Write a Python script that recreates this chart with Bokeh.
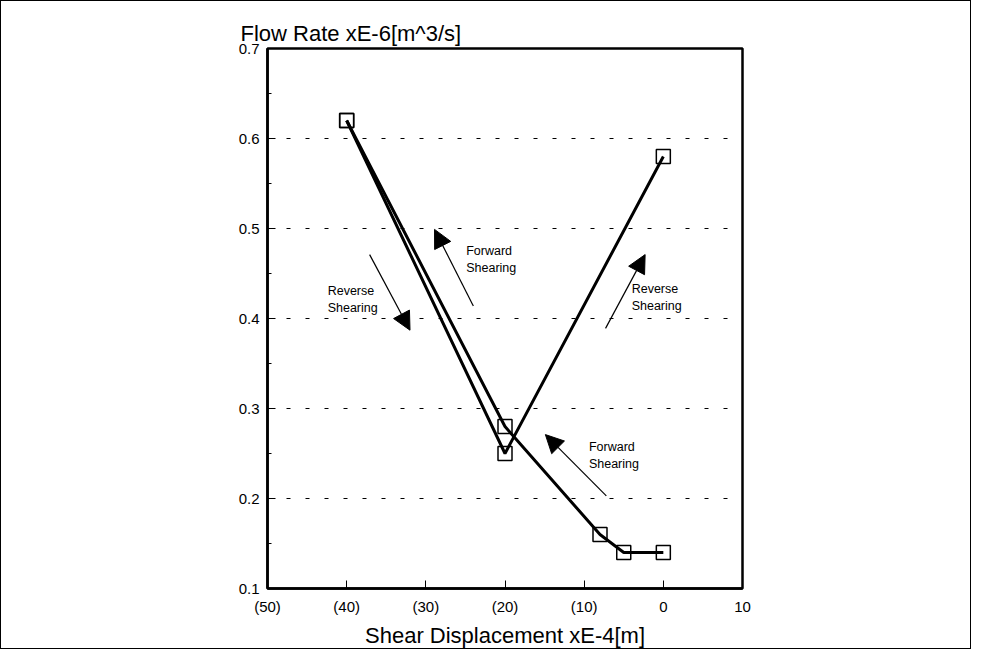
from bokeh.plotting import figure
from bokeh.models import Range1d, Arrow, NormalHead, FixedTicker, Label
from bokeh.embed import file_html
from bokeh.resources import INLINE

# ---- data ----
series_v_x = [-40, -20, 0]
series_v_y = [0.62, 0.25, 0.58]
series_tail_x = [-40, -20, -8, -5, 0]
series_tail_y = [0.62, 0.28, 0.16, 0.14, 0.14]

x_ticks = [-50, -40, -30, -20, -10, 0, 10]
x_tick_labels = ["(50)", "(40)", "(30)", "(20)", "(10)", "0", "10"]
y_ticks = [0.1, 0.2, 0.3, 0.4, 0.5, 0.6, 0.7]
y_tick_labels = ["0.1", "0.2", "0.3", "0.4", "0.5", "0.6", "0.7"]

FONT = "Liberation Sans"

p = figure(width=971, height=649,
           x_range=Range1d(-50, 10), y_range=Range1d(0.1, 0.7),
           output_backend="svg", toolbar_location=None,
           min_border_left=266, min_border_right=230,
           min_border_top=47, min_border_bottom=57,
           background_fill_color="white", border_fill_color="white")
p.styles = {"border": "1px solid black"}

p.title.text = "Flow Rate xE-6[m^3/s]"
p.title.align = "left"
p.title.offset = -27
p.title.text_font = FONT
p.title.text_font_size = "22px"
p.title.text_font_style = "normal"
p.title.text_color = "black"
p.title.standoff = 5

p.outline_line_color = "black"
p.outline_line_width = 2.5

p.xaxis.ticker = FixedTicker(ticks=x_ticks)
p.xaxis.major_label_overrides = dict(zip(x_ticks, x_tick_labels))
p.yaxis.ticker = FixedTicker(ticks=y_ticks,
                             minor_ticks=[(a + b) / 2 for a, b in zip(y_ticks[:-1], y_ticks[1:])])
p.yaxis.major_label_overrides = dict(zip(y_ticks, y_tick_labels))

for ax in (p.xaxis, p.yaxis):
    ax.axis_line_width = 2.5
    ax.axis_line_color = "black"
    ax.major_tick_in = 8
    ax.major_tick_out = 0
    ax.minor_tick_in = 4
    ax.minor_tick_out = 0
    ax.major_tick_line_color = "black"
    ax.major_tick_line_width = 1
    ax.major_label_text_font = FONT
    ax.major_label_text_font_size = "15px"
    ax.major_label_text_color = "black"
p.xaxis.minor_tick_line_color = None
p.xaxis.major_label_standoff = 9
p.yaxis.major_label_standoff = 8

p.xaxis.axis_label = "Shear Displacement xE-4[m]"
p.xaxis.axis_label_text_font = FONT
p.xaxis.axis_label_text_font_size = "22px"
p.xaxis.axis_label_text_font_style = "normal"
p.xaxis.axis_label_text_color = "black"
p.xaxis.axis_label_standoff = 5

p.xgrid.visible = False
p.ygrid.grid_line_color = "black"
p.ygrid.grid_line_dash = "4 15"
p.ygrid.grid_line_width = 1

for xs, ys in ((series_v_x, series_v_y), (series_tail_x, series_tail_y)):
    p.line(xs, ys, line_color="black", line_width=3)
    p.scatter(xs, ys, marker="square", size=14, fill_color=None,
              line_color="black", line_width=1.5)

arrows = [
    (-37.1, 0.471, -32.0, 0.387),
    (-24.0, 0.414, -28.9, 0.499),
    (-7.3, 0.389, -2.3, 0.471),
    (-7.2, 0.203, -14.9, 0.271),
]
for xs0, ys0, xe, ye in arrows:
    p.add_layout(Arrow(end=NormalHead(size=18, fill_color="black", line_color="black"),
                       x_start=xs0, y_start=ys0, x_end=xe, y_end=ye,
                       line_color="black", line_width=1.2))

notes = [
    (-42.4, 0.431, "Reverse"), (-42.4, 0.412, "Shearing"),
    (-24.9, 0.475, "Forward"), (-24.9, 0.456, "Shearing"),
    (-4.0, 0.433, "Reverse"), (-4.0, 0.414, "Shearing"),
    (-9.4, 0.257, "Forward"), (-9.4, 0.238, "Shearing"),
]
for nx, ny, t in notes:
    p.add_layout(Label(x=nx, y=ny, text=t, text_font=FONT, text_font_size="12.5px",
                       text_baseline="middle", text_align="left", text_color="black"))

open("out.html", "w").write(file_html(p, INLINE))
